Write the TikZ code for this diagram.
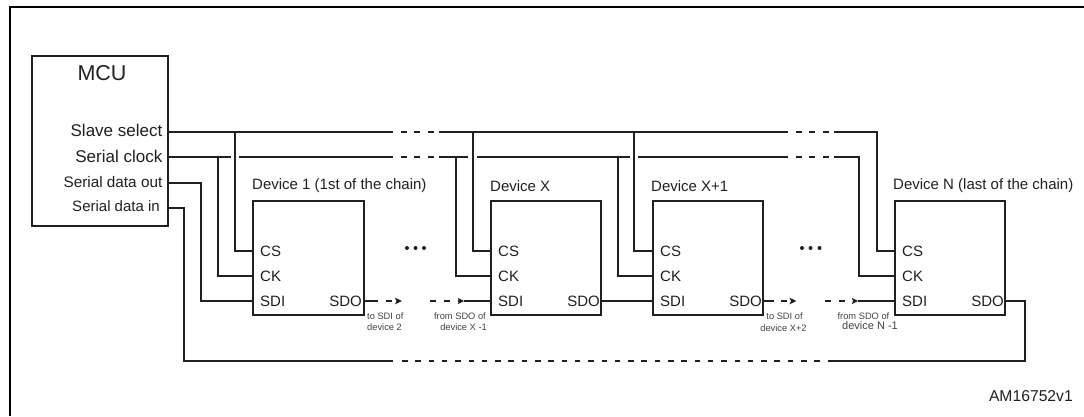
\documentclass[tikz,border=0pt]{standalone}
\usepackage{fontspec}
\setmainfont{Liberation Sans}
\usetikzlibrary{arrows.meta}

\newcommand*{\selY}{132}
\newcommand*{\clkY}{157}
\newcommand*{\retY}{361}
\newcommand*{\csY}{251}
\newcommand*{\ckY}{276}
\newcommand*{\sdY}{301}
\newcommand*{\boxT}{200}
\definecolor{inkgrey}{HTML}{231F20}

\begin{document}
\begin{tikzpicture}
[
	x=1pt,y=-1pt,
	wire/.style={draw=inkgrey,line width=2.2pt},
	busdash/.style={wire,dash pattern=on 6pt off 7.3pt},
	retdash/.style={wire,dash pattern=on 5.5pt off 7.8pt},
	stubout/.style={wire,dash pattern=on 13pt off 8pt on 6pt off 5pt,-{Stealth[length=7pt,width=6.5pt,inset=1.5pt]}},
	stubin/.style={wire,dash pattern=on 6pt off 8pt on 6pt off 8pt,-{Stealth[length=6pt,width=6pt,inset=1pt]}},
	devbox/.style={draw=inkgrey,line width=2.2pt,minimum width=110.5pt,minimum height=114pt,anchor=north west,inner sep=0pt},
	lbl/.style={text=inkgrey,inner sep=0pt,font=\fontsize{15}{15}\selectfont},
	lblbig/.style={lbl,font=\fontsize{17}{17}\selectfont},
	devlbl/.style={lbl,anchor=west,font=\fontsize{15}{15}\selectfont},
	pinlbl/.style={lbl,anchor=west},
	tinylbl/.style={text=inkgrey!85,inner sep=0pt,font=\fontsize{9.3}{9.3}\selectfont},
	morept/.style={circle,fill=inkgrey,inner sep=0pt,minimum size=4pt}
]
	\useasboundingbox (0,0) rectangle (1084,416);

	% page frame
	\coordinate (framebl) at (10,416);
	\coordinate (frametl) at (10,6.5);
	\coordinate (frametr) at (1084,6.5);
	\draw[black,line width=2pt] (framebl) -- (frametl) -- (frametr);

	% mcu
	\node[draw=inkgrey,line width=2.2pt,minimum width=136pt,minimum height=170pt,anchor=north west,inner sep=0pt] at (31,55) (mcu) {};
	\node[lbl,font=\fontsize{21.5}{21.5}\selectfont] at (102,73) (mcuname) {MCU};
	\node[lblbig,anchor=east] at (162.5,130) (slave) {Slave select};
	\node[lblbig,anchor=east] at (162.5,156) (clock) {Serial clock};
	\node[lbl,font=\fontsize{15.3}{15.3}\selectfont,anchor=east] at (162.5,182) (dataout) {Serial data out};
	\node[lbl,anchor=east] at (160,206.5) (datain) {Serial data in};

	% devices
	\node[devbox] at (252,\boxT) (dev1) {};
	\node[devbox] at (489.5,\boxT) (devx) {};
	\node[devbox] at (651.5,\boxT) (devy) {};
	\node[devbox] at (893.5,\boxT) (devn) {};

	% device names
	\node[devlbl] at (252,186) (name1) {Device 1 (1st of the chain)};
	\node[devlbl] at (490,186) (namex) {Device X};
	\node[devlbl] at (651,186) (namey) {Device X+1};
	\node[devlbl] at (893,186) (namen) {Device N (last of the chain)};

	% pin names
	\node[pinlbl] at (260,\csY) (cs1) {CS};
	\node[pinlbl] at (260,\ckY) (ck1) {CK};
	\node[pinlbl] at (260,\sdY) (sdi1) {SDI};
	\node[lbl,anchor=east] at (362,\sdY) (sdo1) {SDO};
	%
	\node[pinlbl] at (498,\csY) (csx) {CS};
	\node[pinlbl] at (498,\ckY) (ckx) {CK};
	\node[pinlbl] at (498,\sdY) (sdix) {SDI};
	\node[lbl,anchor=east] at (600,\sdY) (sdox) {SDO};
	%
	\node[pinlbl] at (660,\csY) (csy) {CS};
	\node[pinlbl] at (660,\ckY) (cky) {CK};
	\node[pinlbl] at (660,\sdY) (sdiy) {SDI};
	\node[lbl,anchor=east] at (762,\sdY) (sdoy) {SDO};
	%
	\node[pinlbl] at (902,\csY) (csn) {CS};
	\node[pinlbl] at (902,\ckY) (ckn) {CK};
	\node[pinlbl] at (902,\sdY) (sdin) {SDI};
	\node[lbl,anchor=east] at (1004,\sdY) (sdon) {SDO};

	% slave select bus
	\coordinate (selA) at (393,\selY);
	\coordinate (selB) at (401,\selY);
	\coordinate (selC) at (439,\selY);
	\coordinate (selD) at (788,\selY);
	\coordinate (selE) at (796,\selY);
	\coordinate (selF) at (834,\selY);
	\coordinate (selG) at (877,\selY);
	\draw[wire] (mcu.east |- selA) -- (selA);
	\draw[busdash] (selB) -- (selC);
	\draw[wire] (selC) -- (selD);
	\draw[busdash] (selE) -- (selF);
	\draw[wire] (selF) -- (selG) |- (devn.west |- csn);

	% serial clock bus
	\coordinate (clkA) at (231,\clkY);
	\coordinate (clkB) at (239,\clkY);
	\coordinate (clkC) at (393,\clkY);
	\coordinate (clkD) at (401,\clkY);
	\coordinate (clkE) at (439,\clkY);
	\coordinate (clkF) at (468,\clkY);
	\coordinate (clkG) at (477,\clkY);
	\coordinate (clkH) at (630,\clkY);
	\coordinate (clkI) at (638,\clkY);
	\coordinate (clkJ) at (788,\clkY);
	\coordinate (clkK) at (796,\clkY);
	\coordinate (clkL) at (834,\clkY);
	\coordinate (clkM) at (859,\clkY);
	\draw[wire] (mcu.east |- clkA) -- (clkA);
	\draw[wire] (clkB) -- (clkC);
	\draw[busdash] (clkD) -- (clkE);
	\draw[wire] (clkE) -- (clkF);
	\draw[wire] (clkG) -- (clkH);
	\draw[wire] (clkI) -- (clkJ);
	\draw[busdash] (clkK) -- (clkL);
	\draw[wire] (clkL) -- (clkM) |- (devn.west |- ckn);

	% drops to the devices
	\coordinate (drops1) at (235,\selY);
	\coordinate (dropc1) at (218,\clkY);
	\draw[wire] (drops1) |- (dev1.west |- cs1);
	\draw[wire] (dropc1) |- (dev1.west |- ck1);
	%
	\coordinate (dropsx) at (473,\selY);
	\coordinate (dropcx) at (456,\clkY);
	\draw[wire] (dropsx) |- (devx.west |- csx);
	\draw[wire] (dropcx) |- (devx.west |- ckx);
	%
	\coordinate (dropsy) at (634,\selY);
	\coordinate (dropcy) at (618,\clkY);
	\draw[wire] (dropsy) |- (devy.west |- csy);
	\draw[wire] (dropcy) |- (devy.west |- cky);

	% data lines
	\coordinate (outturn) at (201,183);
	\draw[wire] (mcu.east |- outturn) -- (outturn) |- (dev1.west |- sdi1);
	\draw[wire] (devx.east |- sdox) -- (devy.west |- sdiy);
	%
	\coordinate (to2) at (402,\sdY);
	\draw[stubout] (dev1.east |- sdo1) -- (to2);
	\coordinate (fromxa) at (430,\sdY);
	\coordinate (fromxb) at (464,\sdY);
	\draw[stubin] (fromxa) -- (fromxb);
	\draw[wire] (fromxb) -- (devx.west |- sdix);
	%
	\coordinate (toy) at (796.5,\sdY);
	\draw[stubout,dash pattern=on 10pt off 7pt on 6pt off 5pt] (devy.east |- sdoy) -- (toy);
	\coordinate (fromna) at (825,\sdY);
	\coordinate (fromnb) at (858,\sdY);
	\draw[stubin] (fromna) -- (fromnb);
	\draw[wire] (fromnb) -- (devn.west |- sdin);

	% return to the mcu
	\coordinate (inturn) at (184,208);
	\coordinate (retA) at (393,\retY);
	\coordinate (retB) at (402,\retY);
	\coordinate (retC) at (833,\retY);
	\coordinate (retD) at (1025,\retY);
	\coordinate (retE) at (1025,\sdY);
	\draw[wire] (mcu.east |- inturn) -- (inturn) |- (retA);
	\draw[retdash] (retB) -- (retC);
	\draw[wire] (retC) -- (retD) -- (retE) -- (devn.east |- sdon);

	% more devices
	\node[morept] at (407,248) (more1) {};
	\node[morept] at (415.5,248) (more2) {};
	\node[morept] at (424,248) (more3) {};
	\node[morept] at (802,248) (more4) {};
	\node[morept] at (810.5,248) (more5) {};
	\node[morept] at (819.5,248) (more6) {};

	% small notes
	\node[tinylbl,anchor=west] at (367,316) (note1a) {to SDI of};
	\node[tinylbl,anchor=west] at (367,327.5) (note1b) {device 2};
	\node[tinylbl,anchor=east] at (486,316) (note2a) {from SDO of};
	\node[tinylbl,anchor=east] at (487,327.5) (note2b) {device X -1};
	\node[tinylbl] at (784.5,316) (note3a) {to SDI of};
	\node[tinylbl] at (783.5,328.5) (note3b) {device X+2};
	\node[tinylbl,anchor=east] at (889.5,316) (note4a) {from SDO of};
	\node[tinylbl,anchor=east,font=\fontsize{11}{11}\selectfont] at (898,326) (note4b) {device N -1};

	% drawing number
	\node[lbl,anchor=east,font=\fontsize{15.7}{15.7}\selectfont] at (1073,396) (amref) {AM16752v1};

\end{tikzpicture}
\end{document}
